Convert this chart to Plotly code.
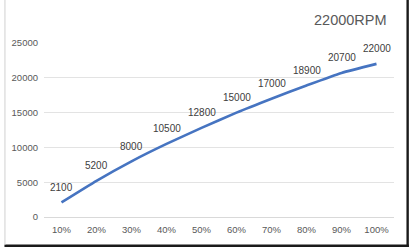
import plotly.graph_objects as go

categories = ["10%", "20%", "30%", "40%", "50%", "60%", "70%", "80%", "90%", "100%"]
rpm_values = [2100, 5200, 8000, 10500, 12800, 15000, 17000, 18900, 20700, 22000]
label_texts = [str(v) for v in rpm_values]
y_ticks = [0, 5000, 10000, 15000, 20000, 25000]
y_tick_labels = ["0", "5000", "10000", "15000", "20000", "25000"]
title_text = "22000RPM"

W, H = 409, 247
L, R, T, B = 40, 15, 43, 30
pw, ph = W - L - R, H - T - B

def px_x(p):
    return (p - L) / pw

def px_y(p):
    return 1 - (p - T) / ph

FONT = "Liberation Sans, Arial, sans-serif"

fig = go.Figure()
fig.add_trace(go.Scatter(
    x=categories, y=rpm_values, mode="lines",
    line=dict(color="#4674C1", width=2.6, shape="spline", smoothing=0.5),
    hoverinfo="skip",
))

annotations = [dict(
    x=c, y=v, text=t, xref="x", yref="y", showarrow=False,
    yshift=15, xanchor="center", yanchor="middle",
    font=dict(family=FONT, size=10, color="#404040"),
) for c, v, t in zip(categories, rpm_values, label_texts)]

annotations.append(dict(
    text=title_text, xref="paper", yref="paper",
    x=px_x(389), y=px_y(20), xanchor="right", yanchor="middle",
    showarrow=False,
    font=dict(family=FONT, size=14.5, color="#595959"),
))

fig.update_layout(
    width=W, height=H,
    margin=dict(l=L, r=R, t=T, b=B),
    paper_bgcolor="white", plot_bgcolor="white",
    showlegend=False,
    font=dict(family=FONT, color="#595959"),
    xaxis=dict(type="category", showgrid=False, showline=True, linecolor="#D9D9D9",
               linewidth=1, ticks="", tickfont=dict(size=9.5, color="#595959"),
               ticklabelstandoff=4,
               range=[-0.5, len(categories) - 0.5], fixedrange=True),
    yaxis=dict(range=[0, 25000], tickvals=y_ticks, ticktext=y_tick_labels,
               showgrid=True, gridcolor="#E3E3E3",
               gridwidth=1, zeroline=False, showline=False, ticks="",
               tickfont=dict(size=9.5, color="#595959"), ticklabelstandoff=5,
               fixedrange=True),
    annotations=annotations,
    shapes=[
        dict(type="line", xref="paper", yref="paper",
             x0=px_x(0), x1=px_x(W), y0=px_y(245.8), y1=px_y(245.8),
             line=dict(color="#1a1a1a", width=2.4)),
        dict(type="line", xref="paper", yref="paper",
             x0=px_x(407.8), x1=px_x(407.8), y0=px_y(0), y1=px_y(H),
             line=dict(color="#1a1a1a", width=2.4)),
        dict(type="line", xref="paper", yref="paper",
             x0=px_x(0.5), x1=px_x(0.5), y0=px_y(0), y1=px_y(245),
             line=dict(color="#D0D0D0", width=1)),
    ],
)

fig.write_html("out.html")
